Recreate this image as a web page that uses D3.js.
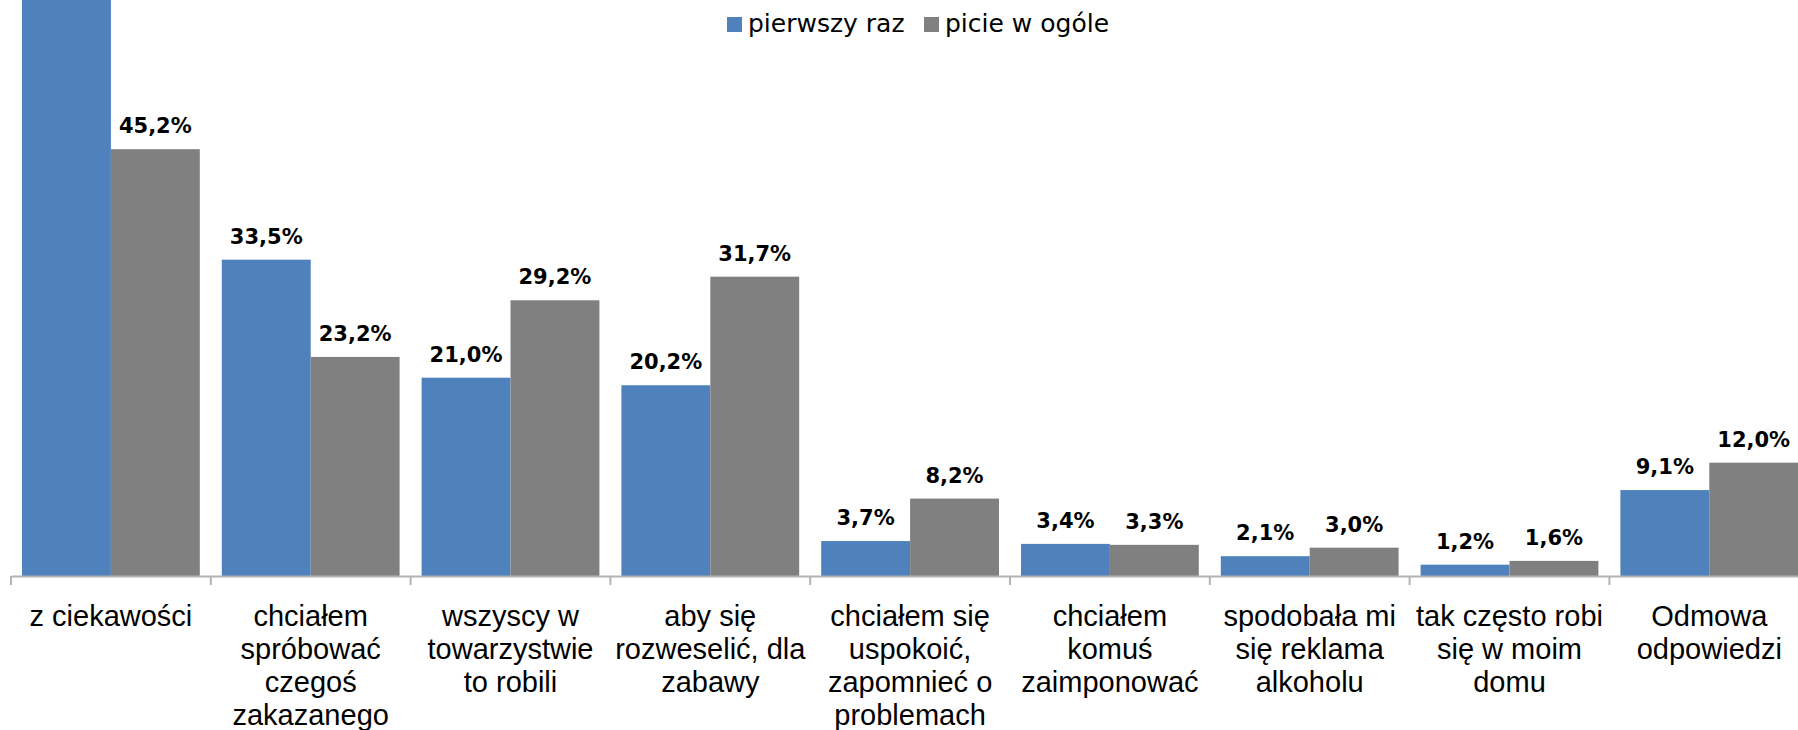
<!DOCTYPE html>
<html>
<head>
<meta charset="utf-8">
<script src="https://cdn.jsdelivr.net/npm/d3@7"></script>
<style>
  body { margin: 0; background: #fff; }
  svg { display: block; font-family: "DejaVu Sans", sans-serif; }
</style>
</head>
<body>
<svg></svg>
<script>
var width = 1798;
var height = 730;
var baseline = 576;

// category labels, already broken into lines as in the picture
var categories = [
    ['z ciekawości'],
    ['chciałem', 'spróbować', 'czegoś', 'zakazanego'],
    ['wszyscy w', 'towarzystwie', 'to robili'],
    ['aby się', 'rozweselić, dla', 'zabawy'],
    ['chciałem się', 'uspokoić,', 'zapomnieć o', 'problemach'],
    ['chciałem', 'komuś', 'zaimponować'],
    ['spodobała mi', 'się reklama', 'alkoholu'],
    ['tak często robi', 'się w moim', 'domu'],
    ['Odmowa', 'odpowiedzi']
];
var seriesNames = ['pierwszy raz', 'picie w ogóle'];
// first value runs off the top of the picture; estimated
var firstTime = [65.0, 33.5, 21.0, 20.2, 3.7, 3.4, 2.1, 1.2, 9.1];
var drinking = [45.2, 23.2, 29.2, 31.7, 8.2, 3.3, 3.0, 1.6, 12.0];
var colors = ['#4f81bd', '#808080'];

var keys = categories.map((c, i) => i);

var data = keys.map(i => ({
    key: i,
    values: [
        {series: seriesNames[0], value: firstTime[i]},
        {series: seriesNames[1], value: drinking[i]}
    ]
}));

var x0 = d3.scaleBand()
            .domain(keys)
            .range([11, 11 + 9 * 199.8])
            .padding(0);

var x1 = d3.scaleBand()
            .domain(seriesNames)
            .range([11, x0.bandwidth() - 11])
            .padding(0);

var yScale = d3.scaleLinear()
            .domain([0, 61])
            .range([baseline, 0]);

var color = d3.scaleOrdinal()
            .domain(seriesNames)
            .range(colors);

var svg = d3.select('svg')
    .attr('width', width)
    .attr('height', height);

var groups = svg.selectAll('g.group')
    .data(data)
    .enter()
    .append('g')
        .attr('class', 'group')
        .attr('transform', d => 'translate(' + x0(d.key) + ',0)');

groups.selectAll('rect')
    .data(d => d.values)
    .enter()
    .append('rect')
        .attr('x', d => x1(d.series))
        .attr('y', d => yScale(d.value))
        .attr('width', x1.bandwidth())
        .attr('height', d => baseline - yScale(d.value))
        .attr('fill', d => color(d.series));

// labels that would sit above the top edge are off the picture anyway
groups.selectAll('text.value')
    .data(d => d.values.filter(v => yScale(v.value) - 16 - 20 > 0))
    .enter()
    .append('text')
        .attr('class', 'value')
        .attr('x', d => x1(d.series) + x1.bandwidth() / 2)
        .attr('y', d => yScale(d.value) - 16)
        .style('text-anchor', 'middle')
        .style('font-size', '21px')
        .style('font-weight', 'bold')
        .text(d => d.value.toFixed(1).replace('.', ',') + '%');

// x axis: line only, labels and boundary ticks added below
var xAxis = d3.axisBottom(x0)
    .tickSize(0)
    .tickSizeOuter(0)
    .tickFormat('');

var axisG = svg.append('g')
    .attr('transform', 'translate(0,' + baseline + ')')
    .call(xAxis);

axisG.select('.domain')
    .attr('stroke', '#b3b3b3')
    .attr('stroke-width', 2);

var boundaries = keys.map(k => x0(k));

axisG.selectAll('line.boundary')
    .data(boundaries)
    .enter()
    .append('line')
        .attr('class', 'boundary')
        .attr('x1', d => d)
        .attr('x2', d => d)
        .attr('y1', 0)
        .attr('y2', 9)
        .attr('stroke', '#b3b3b3')
        .attr('stroke-width', 2);

axisG.selectAll('text.cat')
    .data(keys)
    .enter()
    .append('text')
        .attr('class', 'cat')
        .attr('x', d => x0(d) + x0.bandwidth() / 2)
        .attr('y', 50)
        .style('text-anchor', 'middle')
        .style('font-size', '29px')
        .attr('fill', '#000')
        .selectAll('tspan')
        .data(d => categories[d])
        .enter()
        .append('tspan')
            .attr('x', function(){ return this.parentNode.getAttribute('x'); })
            .attr('dy', (d, i) => i === 0 ? 0 : 33)
            .text(d => d);

// legend
var legendX = [727, 924];
var legend = svg.selectAll('g.legend')
    .data(seriesNames)
    .enter()
    .append('g')
        .attr('class', 'legend')
        .attr('transform', (d, i) => 'translate(' + legendX[i] + ',17)');

legend.append('rect')
    .attr('width', 15)
    .attr('height', 15)
    .attr('fill', d => color(d));

legend.append('text')
    .attr('x', 21)
    .attr('y', 15)
    .style('font-size', '25px')
    .text(d => d);
</script>
</body>
</html>
